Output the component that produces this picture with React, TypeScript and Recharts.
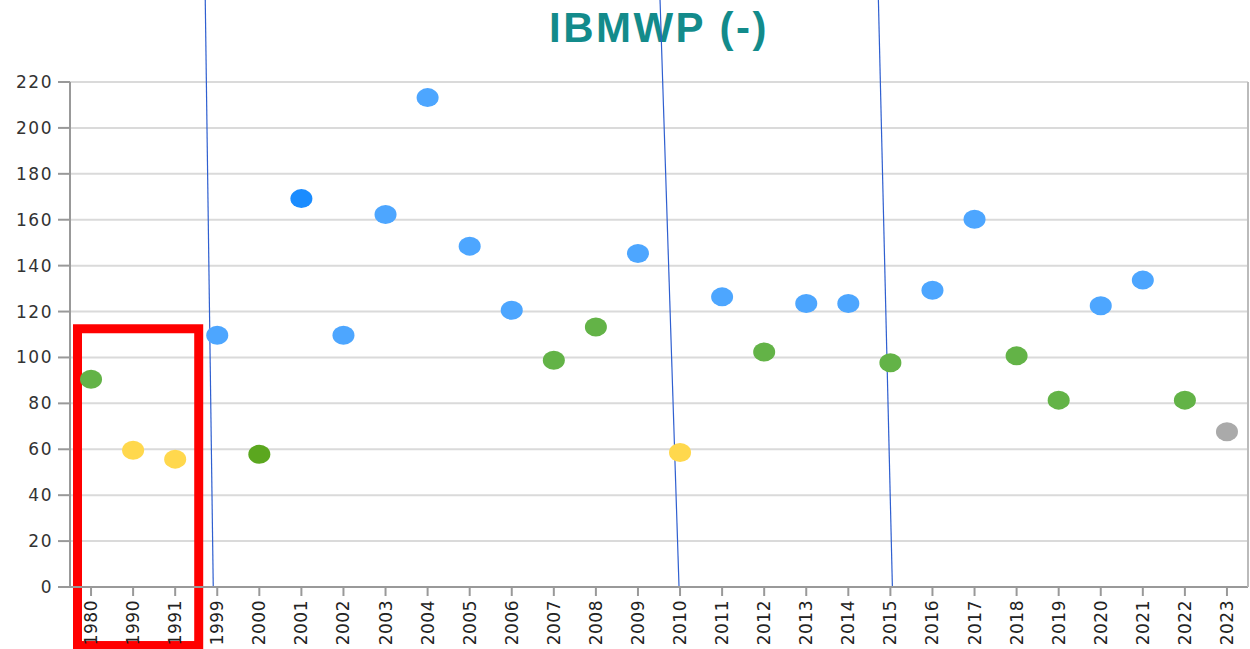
import {
  CartesianGrid,
  ComposedChart,
  Line,
  ReferenceArea,
  ReferenceLine,
  XAxis,
  YAxis,
} from "recharts";

// categories (years) and measured values
const years = [
  "1980", "1990", "1991", "1999", "2000", "2001", "2002", "2003", "2004", "2005",
  "2006", "2007", "2008", "2009", "2010", "2011", "2012", "2013", "2014", "2015",
  "2016", "2017", "2018", "2019", "2020", "2021", "2022", "2023",
];

const values = [
  90.5, 59.6, 55.7, 109.7, 57.8, 169.2, 109.7, 162.3, 213.2, 148.5,
  120.6, 98.8, 113.3, 145.3, 58.6, 126.4, 102.4, 123.5, 123.5, 97.7,
  129.3, 160.2, 100.7, 81.4, 122.5, 133.7, 81.4, 67.6,
];

// class of each point, mapped to a colour below
const classes = [
  "green", "yellow", "yellow", "blue", "greenDark", "blueDark", "blue", "blue", "blue", "blue",
  "blue", "green", "green", "blue", "yellow", "blue", "green", "blue", "blue", "green",
  "blue", "blue", "green", "green", "blue", "blue", "green", "gray",
];

const yTicks = [0, 20, 40, 60, 80, 100, 120, 140, 160, 180, 200, 220];

// annotation lines drawn down to these years
const markerYears = ["1999", "2010", "2015"];

const classColors: Record<string, string> = {
  blue: "#4da6ff",
  blueDark: "#1a8cff",
  green: "#63b347",
  greenDark: "#5ba71f",
  yellow: "#ffd84d",
  gray: "#aaaaaa",
};

// how far each annotation line leans (top vs bottom) and its foot offset
const markerLean: Record<string, [number, number]> = {
  "1999": [8, -4],
  "2010": [19, -1],
  "2015": [14, 2],
};

const data = years.map((year, i) => ({
  year,
  value: values[i],
  cls: classes[i],
}));

const FONT = "'DejaVu Sans', Arial, sans-serif";

function EllipseDot(props: any) {
  const { cx, cy, payload } = props;
  if (cx == null || cy == null) return null;
  return (
    <ellipse
      key={payload.year}
      cx={cx}
      cy={cy}
      rx={11}
      ry={9.5}
      fill={classColors[payload.cls]}
    />
  );
}

function YearTick(props: any) {
  const { x, y, payload } = props;
  return (
    <text
      x={x}
      y={y}
      transform={`rotate(-90, ${x}, ${y})`}
      textAnchor="end"
      dominantBaseline="central"
      fontSize={17}
      letterSpacing={0.5}
      fontFamily={FONT}
      fill="#222"
    >
      {payload.value}
    </text>
  );
}

function makeMarker(year: string) {
  return (props: any) => {
    const { x1, y1, y2 } = props;
    if (x1 == null) return null;
    const [lean, foot] = markerLean[year];
    const bottomX = x1 + foot;
    const bottomY = Math.max(y1, y2);
    return (
      <line
        x1={bottomX - lean}
        y1={0}
        x2={bottomX}
        y2={bottomY}
        stroke="#2f5fd0"
        strokeWidth={1.2}
      />
    );
  };
}

function HighlightBox(props: any) {
  const { x, y, width, height } = props;
  return (
    <rect
      x={x + 7.5}
      y={y}
      width={width - 5}
      height={height}
      fill="none"
      stroke="#ff0000"
      strokeWidth={9}
    />
  );
}

export default function App() {
  return (
    <div
      style={{
        position: "absolute",
        left: 0,
        top: 0,
        width: 1250,
        height: 649,
        background: "#fff",
        fontFamily: FONT,
      }}
    >
      <div
        style={{
          position: "absolute",
          left: 70,
          width: 1178,
          top: 7,
          textAlign: "center",
          fontSize: 42,
          lineHeight: "42px",
          fontWeight: "bold",
          letterSpacing: 2.5,
          color: "#138b8b",
          fontFamily: "'Liberation Sans', Arial, sans-serif",
        }}
      >
        IBMWP (-)
      </div>
      <ComposedChart
        width={1250}
        height={649}
        data={data}
        margin={{ top: 82, right: 0, left: 0, bottom: 0 }}
        style={{ position: "absolute", left: 0, top: 0 }}
      >
        <CartesianGrid
          horizontal
          vertical={false}
          stroke="#dadada"
          strokeWidth={2}
          yAxisId="left"
        />
        <XAxis
          dataKey="year"
          type="category"
          scale="band"
          height={62}
          interval={0}
          tickSize={9}
          tickMargin={4}
          tick={<YearTick />}
          stroke="#999"
          axisLine={{ stroke: "#999", strokeWidth: 2 }}
          tickLine={{ stroke: "#999", strokeWidth: 2 }}
        />
        <YAxis
          yAxisId="left"
          domain={[0, 220]}
          ticks={yTicks}
          width={70}
          tickSize={12}
          tickMargin={5}
          interval={0}
          axisLine={{ stroke: "#999", strokeWidth: 2 }}
          tickLine={{ stroke: "#999", strokeWidth: 2 }}
          tick={{ fontSize: 17, fill: "#333", fontFamily: FONT, letterSpacing: 1.5 }}
        />
        <YAxis
          yAxisId="right"
          orientation="right"
          domain={[0, 220]}
          width={2}
          tick={false}
          tickLine={false}
          axisLine={{ stroke: "#bbb", strokeWidth: 2 }}
        />
        {markerYears.map((yr) => (
          <ReferenceLine
            key={yr}
            x={yr}
            yAxisId="left"
            ifOverflow="visible"
            shape={makeMarker(yr)}
          />
        ))}
        <ReferenceArea
          x1="1980"
          x2="1991"
          y1={-25.5}
          y2={112.5}
          yAxisId="left"
          ifOverflow="visible"
          shape={<HighlightBox />}
        />
        <Line
          yAxisId="left"
          dataKey="value"
          stroke="none"
          dot={<EllipseDot />}
          activeDot={false}
          isAnimationActive={false}
        />
      </ComposedChart>
    </div>
  );
}
